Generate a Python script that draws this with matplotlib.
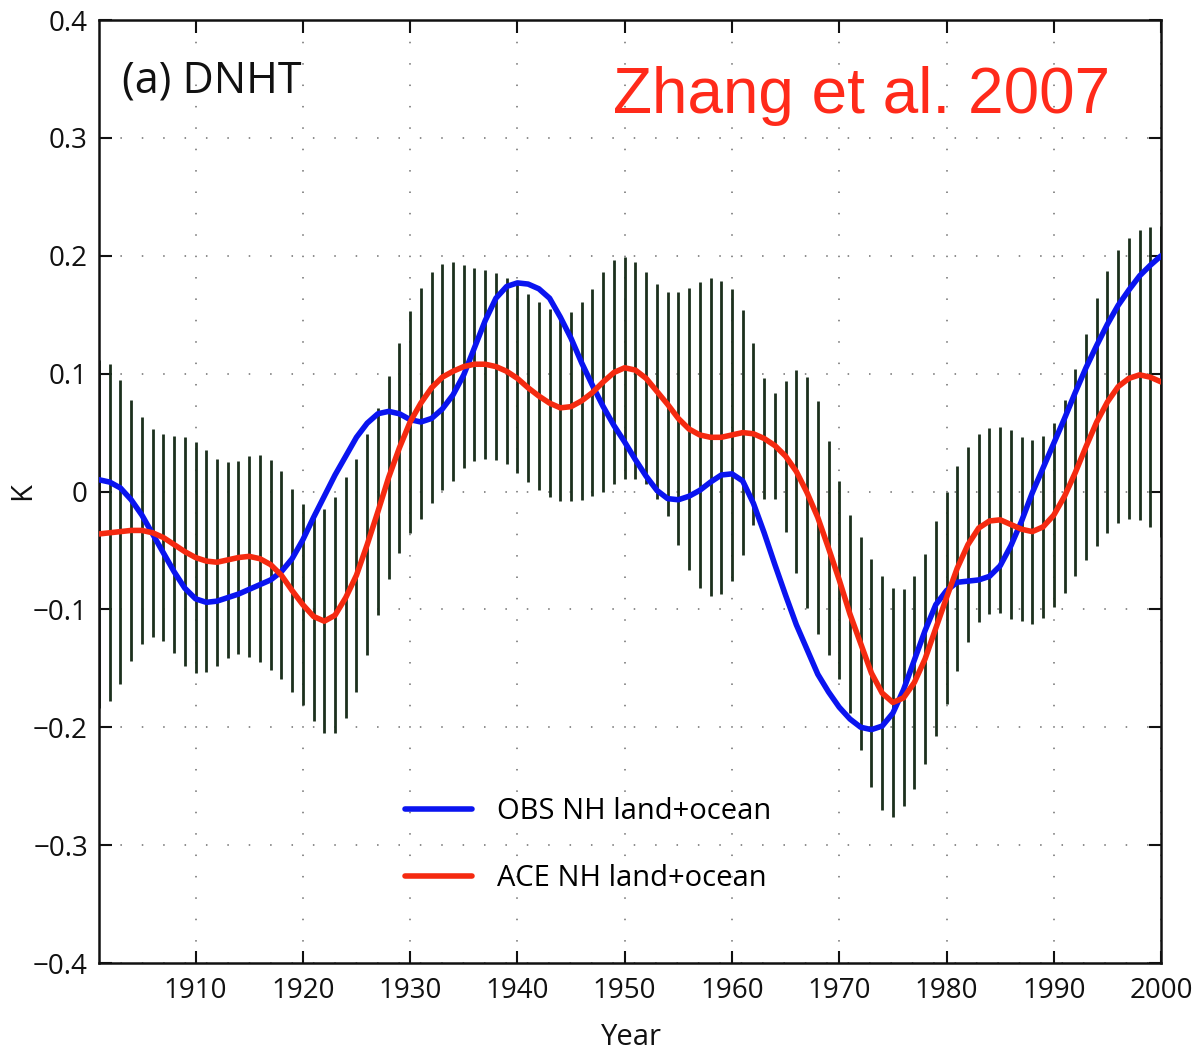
import numpy as np
import matplotlib
matplotlib.use("Agg")
import matplotlib.pyplot as plt

# Años (una barra y un punto por año)
years = np.arange(1901, 2001)

# OBS NH land+ocean (curva azul)
obs = [0.010, 0.008, 0.003, -0.007, -0.020, -0.036, -0.052, -0.068, -0.082, -0.091,
       -0.094, -0.093, -0.090, -0.087, -0.083, -0.079, -0.075, -0.068, -0.057, -0.041,
       -0.022, -0.004, 0.014, 0.030, 0.046, 0.058, 0.066, 0.068, 0.066, 0.061,
       0.059, 0.062, 0.070, 0.082, 0.099, 0.122, 0.145, 0.164, 0.174, 0.177,
       0.176, 0.172, 0.164, 0.148, 0.130, 0.109, 0.090, 0.072, 0.056, 0.042,
       0.027, 0.013, 0.001, -0.006, -0.007, -0.004, 0.001, 0.008, 0.014, 0.015,
       0.009, -0.010, -0.035, -0.062, -0.088, -0.113, -0.134, -0.155, -0.170, -0.183,
       -0.193, -0.200, -0.202, -0.199, -0.188, -0.168, -0.143, -0.118, -0.096, -0.084,
       -0.077, -0.076, -0.075, -0.072, -0.063, -0.046, -0.025, -0.001, 0.020, 0.041,
       0.062, 0.084, 0.105, 0.124, 0.142, 0.158, 0.171, 0.183, 0.192, 0.200]

# ACE NH land+ocean (curva roja, centro de las barras)
ace = [-0.036, -0.035, -0.034, -0.033, -0.033, -0.035, -0.039, -0.045, -0.051, -0.056,
       -0.059, -0.060, -0.058, -0.056, -0.055, -0.057, -0.062, -0.071, -0.084, -0.096,
       -0.106, -0.110, -0.105, -0.090, -0.071, -0.045, -0.017, 0.012, 0.037, 0.059,
       0.075, 0.088, 0.097, 0.102, 0.106, 0.108, 0.108, 0.106, 0.102, 0.096,
       0.088, 0.081, 0.075, 0.071, 0.072, 0.077, 0.084, 0.093, 0.101, 0.105,
       0.103, 0.096, 0.085, 0.074, 0.062, 0.053, 0.048, 0.046, 0.046, 0.048,
       0.050, 0.049, 0.045, 0.039, 0.030, 0.017, -0.001, -0.022, -0.048, -0.075,
       -0.104, -0.129, -0.154, -0.171, -0.179, -0.175, -0.162, -0.142, -0.116, -0.090,
       -0.065, -0.045, -0.031, -0.025, -0.024, -0.028, -0.032, -0.034, -0.030, -0.020,
       -0.004, 0.016, 0.038, 0.059, 0.076, 0.089, 0.096, 0.099, 0.097, 0.093]

# Semiancho de las barras de incertidumbre
spread = [0.148, 0.143, 0.129, 0.111, 0.096, 0.088, 0.088, 0.092, 0.097, 0.098,
          0.094, 0.088, 0.083, 0.082, 0.085, 0.088, 0.089, 0.088, 0.086, 0.085,
          0.089, 0.095, 0.100, 0.102, 0.099, 0.094, 0.088, 0.086, 0.089, 0.094,
          0.098, 0.098, 0.096, 0.093, 0.086, 0.082, 0.080, 0.079, 0.079, 0.080,
          0.080, 0.080, 0.080, 0.079, 0.080, 0.084, 0.088, 0.093, 0.095, 0.094,
          0.092, 0.090, 0.091, 0.095, 0.107, 0.120, 0.130, 0.135, 0.133, 0.124,
          0.104, 0.077, 0.051, 0.045, 0.064, 0.086, 0.098, 0.099, 0.091, 0.084,
          0.084, 0.090, 0.097, 0.099, 0.097, 0.092, 0.090, 0.089, 0.091, 0.090,
          0.087, 0.083, 0.080, 0.079, 0.079, 0.080, 0.078, 0.078, 0.077, 0.078,
          0.082, 0.088, 0.096, 0.105, 0.111, 0.116, 0.119, 0.123, 0.127, 0.132]

x_ticks = [1910, 1920, 1930, 1940, 1950, 1960, 1970, 1980, 1990, 2000]
y_ticks = [-0.4, -0.3, -0.2, -0.1, 0, 0.1, 0.2, 0.3, 0.4]
y_labels = ["\u22120.4", "\u22120.3", "\u22120.2", "\u22120.1", "0", "0.1", "0.2", "0.3", "0.4"]

plt.rcParams["font.family"] = ["Open Sans", "DejaVu Sans"]

fig = plt.figure(figsize=(11.97, 10.55), dpi=100)
ax = fig.add_axes([0.0827, 0.0872, 0.8873, 0.8938])

ace_arr = np.array(ace)
spr_arr = np.array(spread)

# Barras verticales
ax.vlines(years, ace_arr - spr_arr, ace_arr + spr_arr, color="#1c301d",
          linewidth=2.0, zorder=2)

# Curvas
ax.plot(years, obs, color="#0a14f0", linewidth=4.0, solid_capstyle="round",
        solid_joinstyle="round", zorder=3, label="OBS NH land+ocean")
ax.plot(years, ace, color="#f52a10", linewidth=4.0, solid_capstyle="round",
        solid_joinstyle="round", zorder=3, label="ACE NH land+ocean")

ax.set_xlim(1901, 2000)
ax.set_ylim(-0.4, 0.4)
ax.set_xticks(x_ticks)
ax.set_yticks(y_ticks)
ax.set_yticklabels(y_labels)

ax.grid(True, color="#6e6e6e", linewidth=1.1, linestyle=(0, (1, 13)), zorder=0)
ax.set_axisbelow(True)

ax.tick_params(direction="in", top=True, right=True, length=9, width=1.5,
               labelsize=20, colors="#111111")
ax.tick_params(axis="x", pad=10)
ax.tick_params(axis="y", pad=8)
for spine in ax.spines.values():
    spine.set_linewidth(1.8)
    spine.set_color("#111111")

ax.set_xlabel("Year", fontsize=21, color="#111111")
ax.set_ylabel("K", fontsize=21, color="#111111")
ax.xaxis.set_label_coords(0.501, -0.064)
ax.yaxis.set_label_coords(-0.058, 0.5)

ax.text(0.022, 0.923, "(a) DNHT", transform=ax.transAxes, fontsize=31,
        va="baseline", ha="left", color="#111111")
ax.text(0.484, 0.901, "Zhang et al. 2007", transform=ax.transAxes,
        fontsize=46, va="baseline", ha="left", color="#ff2a1a",
        family=["Liberation Sans", "DejaVu Sans"])

ax.legend(loc="upper left", bbox_to_anchor=(0.288, 0.176), frameon=False,
          fontsize=21, handlelength=2.3, handletextpad=0.85, labelspacing=1.3,
          borderpad=0, borderaxespad=0)

fig.savefig("out.png", dpi=100)
